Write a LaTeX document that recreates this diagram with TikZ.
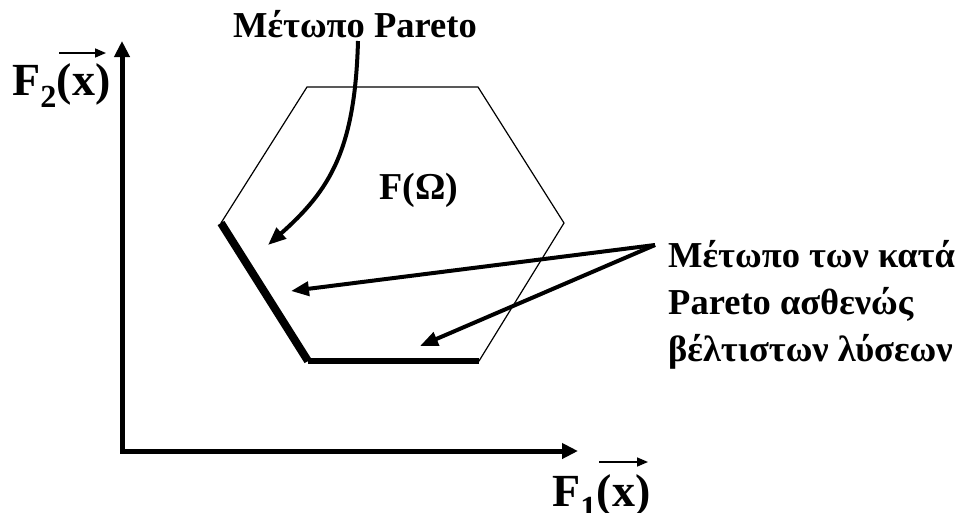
\documentclass[tikz,border=0pt]{standalone}
\usepackage{fontspec}
\setmainfont{Liberation Serif}
\usetikzlibrary{arrows.meta}
\begin{document}
\begin{tikzpicture}[x=1pt,y=-1pt,
  lbl/.style={font=\bfseries\fontsize{36.5}{47}\selectfont, inner sep=0pt},
  axlbl/.style={font=\bfseries\fontsize{46}{50}\selectfont, inner sep=0pt},
  pointer/.style={line width=4pt, -{Triangle[length=18pt,width=14pt]}},
  axisline/.style={line width=5pt, line join=miter, {Triangle[length=16pt,width=15pt]}-{Triangle[length=16pt,width=15pt]}},
  vecarrow/.style={line width=1.6pt, -{Triangle[length=11pt,width=9pt]}},
  hexedge/.style={line width=1.2pt, line join=miter},
  frontline/.style={line cap=butt}
]
\useasboundingbox (0,0) rectangle (959,512);

% axes
\coordinate (O) at (122,451);
\coordinate (xend) at (578,451);
\coordinate (yend) at (122,41);
\draw[axisline] (yend) -- (O) -- (xend);

% axis labels
\node[axlbl, anchor=base west] (f2) at (12,95) {F\textsubscript{2}(x)};
\node[axlbl, anchor=base west] (f1) at (552,506) {F\textsubscript{1}(x)};
\coordinate (v2a) at (59,53);
\coordinate (v2b) at (106,53);
\coordinate (v1a) at (599,462);
\coordinate (v1b) at (648,462);
\draw[vecarrow] (v2a) -- (v2b);
\draw[vecarrow] (v1a) -- (v1b);

% feasible region
\coordinate (h1) at (307,87);
\coordinate (h2) at (478,87);
\coordinate (h3) at (564,223);
\coordinate (h4) at (479,361);
\coordinate (h5) at (308,361);
\coordinate (h6) at (221,223);
\draw[hexedge] (h1) -- (h2) -- (h3) -- (h4) -- (h5) -- (h6) -- cycle;
\draw[frontline, line width=8pt] (h6) -- (h5);
\draw[frontline, line width=6pt] (h5) -- (h4);

\node[font=\bfseries\fontsize{38}{40}\selectfont, inner sep=0pt] (fom) at (419,190) {F(Ω)};

% labels
\node[lbl, anchor=base] (pf) at (355,37) {Μέτωπο Pareto};
\node[lbl, anchor=base west, align=left] (wf) at (668,361) {Μέτωπο των κατά\\Pareto ασθενώς\\βέλτιστων λύσεων};

% pointers
\coordinate (c0) at (358,41);
\coordinate (t1) at (268,245);
\draw[pointer] (c0) .. controls (355,150) and (330,190) .. (t1);
\coordinate (src) at (655,245);
\coordinate (t2) at (291,291);
\coordinate (t3) at (420,346);
\draw[pointer] (src) -- (t2);
\draw[pointer] (src) -- (t3);
\end{tikzpicture}
\end{document}
